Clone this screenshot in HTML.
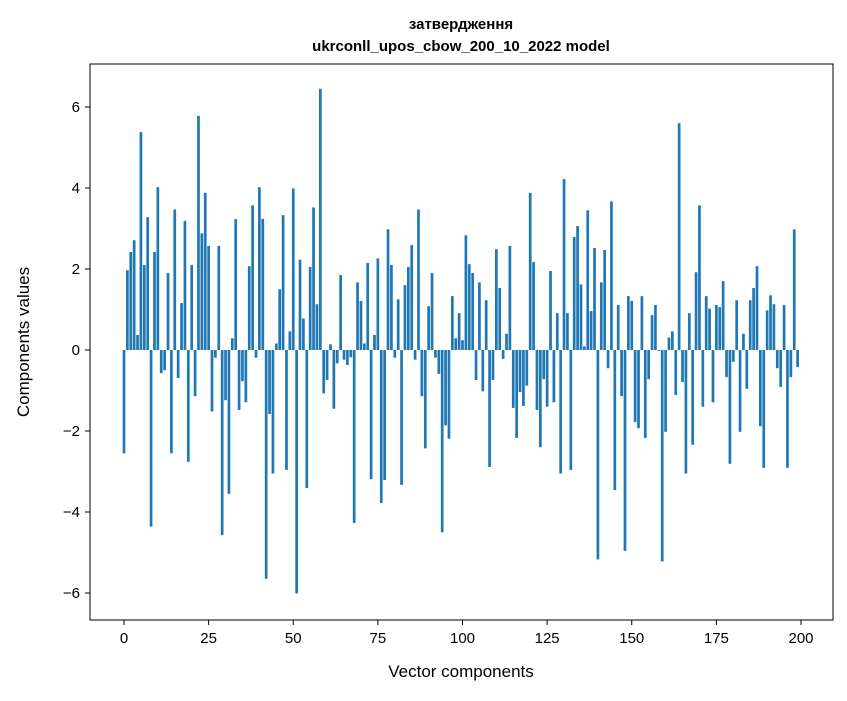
<!DOCTYPE html>
<html><head><meta charset="utf-8"><style>
body{margin:0;background:#fff;}
svg text{font-family:"Liberation Sans","DejaVu Sans",sans-serif;fill:#000;}
</style></head><body>
<svg id="chart" width="847" height="696" xmlns="http://www.w3.org/2000/svg">
<rect width="847" height="696" fill="#fff"/>
<text x="461" y="29" font-size="15" font-weight="bold" text-anchor="middle">затвердження</text>
<text x="461" y="51" font-size="15" font-weight="bold" text-anchor="middle">ukrconll_upos_cbow_200_10_2022 model</text>
<g id="bars"></g>
<rect x="90" y="64" width="743" height="556" fill="none" stroke="#000" stroke-width="1"/>
<g id="xticks"></g>
<g id="yticks"></g>
<text x="461" y="677" font-size="17" text-anchor="middle">Vector components</text>
<text x="29" y="342" font-size="17" text-anchor="middle" transform="rotate(-90 29 342)">Components values</text>
</svg>
<script>
const values = [-2.55,1.97,2.42,2.71,0.37,5.38,2.1,3.28,-4.36,2.42,4.02,-0.57,-0.5,1.9,-2.55,3.47,-0.69,1.16,3.19,-2.76,
2.1,-1.14,5.78,2.88,3.88,2.57,-1.52,-0.19,2.57,-4.57,-1.24,-3.55,0.29,3.23,-1.48,-0.77,-1.29,2.07,3.57,-0.19,
4.02,3.24,-5.65,-1.58,-3.05,0.16,1.5,3.33,-2.96,0.46,3.99,-6.01,2.23,0.78,-3.41,2.05,3.52,1.13,6.45,-1.07,
-0.74,0.14,-1.45,-0.33,1.85,-0.24,-0.37,-0.18,-4.27,1.67,1.21,0.16,2.15,-3.19,0.37,2.26,-3.78,-3.21,2.98,2.1,
-0.19,1.25,-3.33,1.6,2.05,2.59,-0.24,3.47,-1.14,-2.43,1.08,1.9,-0.19,-0.59,-4.5,-1.86,-2.19,1.33,0.29,0.91,
0.24,2.83,2.12,1.9,-0.74,1.67,-1.02,1.23,-2.89,-0.74,2.49,1.53,-0.22,0.4,2.57,-1.43,-2.17,-1.04,-1.38,-0.88,
3.88,2.17,-1.48,-2.4,-0.72,-1.4,1.95,-1.29,0.91,-3.05,4.22,0.91,-2.96,2.79,3.06,1.62,0.09,3.45,0.96,2.52,
-5.17,1.67,2.47,-0.45,3.67,-3.46,1.11,-1.14,-4.96,1.33,1.21,-1.78,-1.93,1.33,-2.17,-0.72,0.86,1.11,-0.02,-5.22,
-2.02,0.31,0.46,-1.11,5.6,-0.79,-3.05,0.91,-2.34,1.92,3.57,-1.4,1.33,1.02,-1.29,1.11,1.06,1.7,-0.67,-2.81,
-0.29,1.23,-2.02,0.4,-0.96,1.23,1.53,2.07,-1.88,-2.91,0.98,1.35,1.13,-0.45,-0.91,1.11,-2.91,-0.67,2.98,-0.42];
const xTicks = [0,25,50,75,100,125,150,175,200];
const yTicks = [-6,-4,-2,0,2,4,6];
const NS="http://www.w3.org/2000/svg";
function xs(v){return 124 + v*3.385;}
function ys(v){return 350 - v*40.5;}
const bars=document.getElementById('bars');
values.forEach((v,i)=>{
  const r=document.createElementNS(NS,'rect');
  
  
  const x0=xs(i-0.4), x1=xs(i+0.4);
  const y0=ys(Math.max(v,0)), y1=ys(Math.min(v,0));
  r.setAttribute('x',x0);r.setAttribute('width',x1-x0);
  r.setAttribute('y',y0);r.setAttribute('height',Math.max(y1-y0,0.3));
  r.setAttribute('fill','#1f77b4');
  bars.appendChild(r);
});
const xg=document.getElementById('xticks');
xTicks.forEach(t=>{
  const l=document.createElementNS(NS,'line');
  
  
  l.setAttribute('x1',xs(t));l.setAttribute('x2',xs(t));l.setAttribute('y1',620);l.setAttribute('y2',625);
  l.setAttribute('stroke','#000');xg.appendChild(l);
  const tx=document.createElementNS(NS,'text');
  
  
  tx.setAttribute('x',xs(t));tx.setAttribute('y',643);tx.setAttribute('font-size','15');tx.setAttribute('text-anchor','middle');
  tx.textContent=t;xg.appendChild(tx);
});
const yg=document.getElementById('yticks');
yTicks.forEach(t=>{
  const l=document.createElementNS(NS,'line');
  
  
  l.setAttribute('x1',85);l.setAttribute('x2',90);l.setAttribute('y1',ys(t));l.setAttribute('y2',ys(t));
  l.setAttribute('stroke','#000');yg.appendChild(l);
  const tx=document.createElementNS(NS,'text');
  
  
  tx.setAttribute('x',80);tx.setAttribute('y',ys(t)+5);tx.setAttribute('font-size','15');tx.setAttribute('text-anchor','end');
  tx.textContent=(t<0?'\u2212':'')+Math.abs(t);yg.appendChild(tx);
});
</script>
</body></html>
